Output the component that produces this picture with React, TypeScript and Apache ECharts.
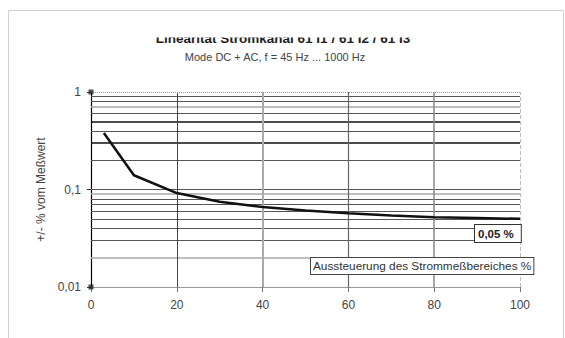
import React, { useEffect, useRef } from "react";
import * as echarts from "echarts";

const xValues = [3, 10, 20, 30, 40, 50, 60, 70, 80, 90, 100];
const yValues = [0.38, 0.14, 0.092, 0.075, 0.066, 0.061, 0.057, 0.054, 0.052, 0.051, 0.05];
const xTicks = [0, 20, 40, 60, 80, 100];
const yTicks = [0.01, 0.1, 1];
const yGridValues = [0.02, 0.03, 0.04, 0.05, 0.06, 0.07, 0.08, 0.09, 0.1, 0.2, 0.3, 0.4, 0.5, 0.6, 0.7, 0.8, 0.9];
const xGridValues = [20, 40, 60, 80];
const cornerMarkers = [[0, 1], [0, 0.01]];
const titleText = "Linearität Stromkanal 61 I1 / 61 I2 / 61 I3";
const subtitleText = "Mode DC + AC, f = 45 Hz ... 1000 Hz";
const yAxisName = "+/- % vom Meßwert";
const xAxisName = "Aussteuerung des Strommeßbereiches %";
const endLabel = "0,05 %";

const FONT = "Liberation Sans, Arial, sans-serif";

function yStyle(v: number) {
  if (v === 0.5 || v === 0.3) return { color: "#111", width: 1.6, type: "solid" };
  if (v === 0.7 || v === 0.09 || v === 0.02) return { color: "#aaa", width: 1.6, type: "solid" };
  return { color: "#555", width: 1, type: "solid" };
}
function xStyle(v: number) {
  if (v === 40) return { color: "#aaa", width: 2, type: "solid" };
  if (v === 80) return { color: "#888", width: 1.5, type: "solid" };
  if (v === 60) return { color: "#666", width: 1.2, type: "solid" };
  return { color: "#444", width: 1, type: "solid" };
}

export default function App() {
  const ref = useRef<HTMLDivElement>(null);
  useEffect(() => {
    if (!ref.current) return;
    const chart = echarts.init(ref.current, undefined, { renderer: "svg" });
    const gridData: any[] = [
      ...yGridValues.map((v) => ({ yAxis: v, lineStyle: yStyle(v) })),
      ...xGridValues.map((v) => ({ xAxis: v, lineStyle: xStyle(v) })),
      { yAxis: yTicks[2], lineStyle: { color: "#999", width: 1, type: "dotted" } },
      { xAxis: xTicks[xTicks.length - 1], lineStyle: { color: "#bbb", width: 1, type: "dashed" } },
    ];
    chart.setOption({
      animation: false,
      grid: { left: 91, right: 45, top: 92, bottom: 51 },
      xAxis: {
        type: "value",
        min: xTicks[0],
        max: xTicks[xTicks.length - 1],
        interval: 20,
        axisLine: { show: true, lineStyle: { color: "#999", width: 1 } },
        axisTick: { show: true, inside: false, length: 5, lineStyle: { color: "#777" } },
        splitLine: { show: false },
        axisLabel: { color: "#444", fontFamily: FONT, fontSize: 12, margin: 12 },
      },
      yAxis: {
        type: "log",
        logBase: 10,
        min: yTicks[0],
        max: yTicks[yTicks.length - 1],
        name: yAxisName,
        nameLocation: "middle",
        nameRotate: 90,
        nameGap: 36,
        nameTextStyle: { color: "#444", fontFamily: FONT, fontSize: 12 },
        axisLine: { show: true, onZero: false, lineStyle: { color: "#000", width: 1.2 } },
        axisTick: { show: true, inside: false, length: 4, lineStyle: { color: "#333" } },
        splitLine: { show: false },
        axisLabel: {
          color: "#444",
          fontFamily: FONT,
          fontSize: 12,
          margin: 10,
          formatter: (v: number) => String(v).replace(".", ","),
        },
      },
      series: [
        {
          type: "line",
          data: [],
          z: 1,
          silent: true,
          markLine: { symbol: "none", silent: true, label: { show: false }, data: gridData },
        },
        {
          type: "line",
          data: xValues.map((x, i) => [x, yValues[i]]),
          showSymbol: false,
          z: 5,
          lineStyle: { color: "#111", width: 2.5 },
        },
        {
          type: "scatter",
          data: cornerMarkers,
          symbol: "rect",
          symbolSize: 5,
          z: 6,
          itemStyle: { color: "#222" },
        },
      ],
      graphic: [
        {
          type: "rect",
          shape: { x: 8.5, y: 10.5, width: 555, height: 400 },
          style: { fill: "none", stroke: "#d0d0d0", lineWidth: 1 },
          z: 0,
        },
        {
          type: "text",
          x: 283,
          y: 38,
          z: 10,
          style: { text: titleText, font: "bold 13.5px " + FONT, fill: "#222", align: "center", verticalAlign: "middle" },
        },
        {
          type: "rect",
          shape: { x: 130, y: 14, width: 320, height: 23.5 },
          style: { fill: "#fff" },
          z: 11,
        },
        {
          type: "text",
          x: 275,
          y: 57,
          z: 10,
          style: { text: subtitleText, font: "11px " + FONT, fill: "#444", align: "center", verticalAlign: "middle" },
        },
        {
          type: "text",
          x: 475,
          y: 225,
          z: 20,
          style: {
            text: endLabel,
            font: "bold 11.5px " + FONT,
            fill: "#222",
            backgroundColor: "#fff",
            borderColor: "#333",
            borderWidth: 1,
            padding: [3, 7, 2, 3],
          },
        },
        {
          type: "text",
          x: 311,
          y: 258,
          z: 20,
          style: {
            text: xAxisName,
            font: "11.8px " + FONT,
            fill: "#333",
            backgroundColor: "#fff",
            borderColor: "#444",
            borderWidth: 1,
            padding: [2, 2, 2, 2],
          },
        },
      ],
    });
    return () => chart.dispose();
  }, []);
  return (
    <div style={{ position: "fixed", left: 0, top: 0, width: 565, height: 338, background: "#fff" }}>
      <div ref={ref} style={{ width: 565, height: 338 }} />
    </div>
  );
}
